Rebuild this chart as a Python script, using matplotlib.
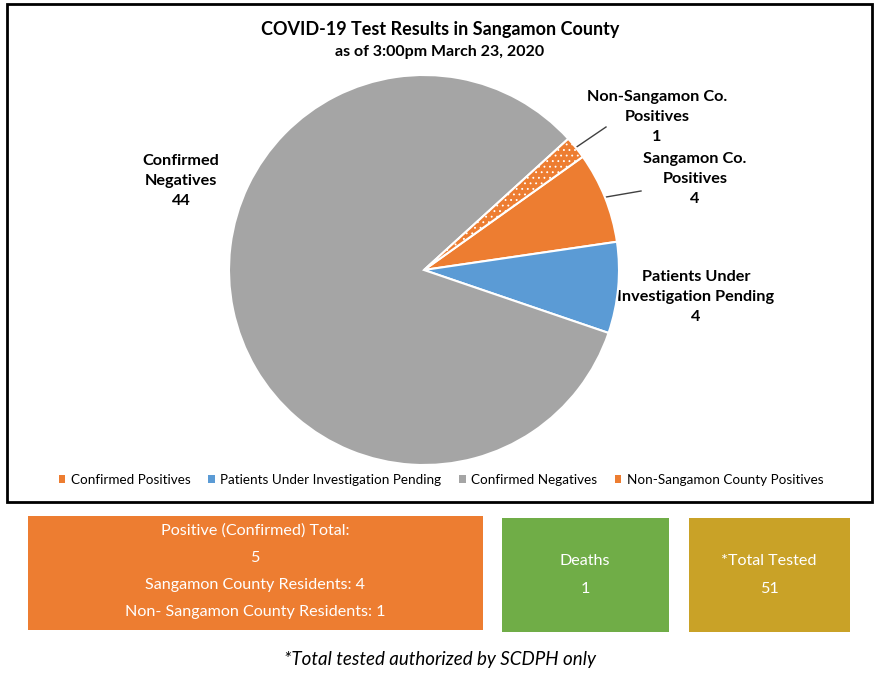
import numpy as np
import matplotlib
matplotlib.use("Agg")
import matplotlib.pyplot as plt
from matplotlib.patches import Rectangle

plt.rcParams['font.family'] = ['Lato', 'DejaVu Sans']
plt.rcParams['hatch.color'] = 'white'
plt.rcParams['hatch.linewidth'] = 0.6

# data
categories = ["Confirmed Positives", "Patients Under Investigation Pending",
              "Confirmed Negatives", "Non-Sangamon County Positives"]
counts = [4, 4, 44, 1]
colors = ["#ED7D31", "#5B9BD5", "#A5A5A5", "#ED7D31"]
slice_labels = ["Sangamon Co.\nPositives", "Patients Under\nInvestigation Pending",
                "Confirmed\nNegatives", "Non-Sangamon Co.\nPositives"]

box_titles = ["Positive (Confirmed) Total:", "Deaths", "*Total Tested"]
positives_total = 5
sangamon_res = 4
non_sangamon_res = 1
deaths = 1
total_tested = 51

W, H = 880, 676
fig = plt.figure(figsize=(W / 100, H / 100), dpi=100)
bg = fig.add_axes([0, 0, 1, 1])
bg.set_xlim(0, W)
bg.set_ylim(H, 0)
bg.axis('off')

# chart frame
bg.add_patch(Rectangle((7, 4), 865, 498, fill=False, ec='black', lw=2))
bg.text(440, 30, "COVID-19 Test Results in Sangamon County", ha='center', va='center',
        fontsize=13, fontweight='bold')
bg.text(440, 52, "as of 3:00pm March 23, 2020", ha='center', va='center',
        fontsize=11.5, fontweight='bold')

# pie
cx, cy, r = 424, 270, 195
pax = fig.add_axes([(cx - r) / W, (H - cy - r) / H, 2 * r / W, 2 * r / H])
wedges, _ = pax.pie(counts, colors=colors, startangle=35.5, counterclock=False,
                    radius=1, wedgeprops=dict(edgecolor='white', linewidth=1.5))
wedges[3].set_hatch('...')
pax.set_xlim(-1, 1)
pax.set_ylim(-1, 1)
pax.set_aspect('equal')
pax.axis('off')

# data labels
label_pos = [(695, 179), (696, 297), (181, 181), (657, 117)]
for i, (w, lab) in enumerate(zip(wedges, slice_labels)):
    lx, ly = label_pos[i]
    bg.text(lx, ly, f"{lab}\n{counts[i]}", ha='center', va='center',
            fontsize=11.7, fontweight='bold', linespacing=1.55)
    if i in (0, 3):
        ang = np.deg2rad((w.theta1 + w.theta2) / 2)
        sx, sy = cx + r * np.cos(ang), cy - r * np.sin(ang)
        ex, ey = (641, 191) if i == 0 else (606, 127)
        bg.plot([sx, ex], [sy, ey], color='#404040', lw=1)

# legend
leg = bg.legend([Rectangle((0, 0), 1, 1, fc=c) for c in colors], categories,
                loc='center', bbox_to_anchor=(441 / W, 1 - 480 / H), ncol=4,
                frameon=False, fontsize=9.7, handlelength=0.5, handleheight=0.5,
                handletextpad=0.4, columnspacing=1.3)

# summary boxes
bg.add_patch(Rectangle((28, 516), 455, 114, fc='#ED7D31', ec='none'))
bg.add_patch(Rectangle((502, 518), 167, 114, fc='#70AD47', ec='none'))
bg.add_patch(Rectangle((689, 518), 161, 114, fc='#C9A227', ec='none'))

pos_lines = [box_titles[0], str(positives_total),
             f"Sangamon County Residents: {sangamon_res}",
             f"Non- Sangamon County Residents: {non_sangamon_res}"]
for k, t in enumerate(pos_lines):
    bg.text(255, 531 + k * 27, t, ha='center', va='center', color='white', fontsize=11.6)
bg.text(585, 561, box_titles[1], ha='center', va='center', color='white', fontsize=11.6)
bg.text(585, 589, str(deaths), ha='center', va='center', color='white', fontsize=11.6)
bg.text(769, 561, box_titles[2], ha='center', va='center', color='white', fontsize=11.6)
bg.text(769, 589, str(total_tested), ha='center', va='center', color='white', fontsize=11.6)

bg.text(440, 660, "*Total tested authorized by SCDPH only", ha='center', va='center',
        fontsize=13.5, style='italic')

fig.savefig("out.png", dpi=100)
